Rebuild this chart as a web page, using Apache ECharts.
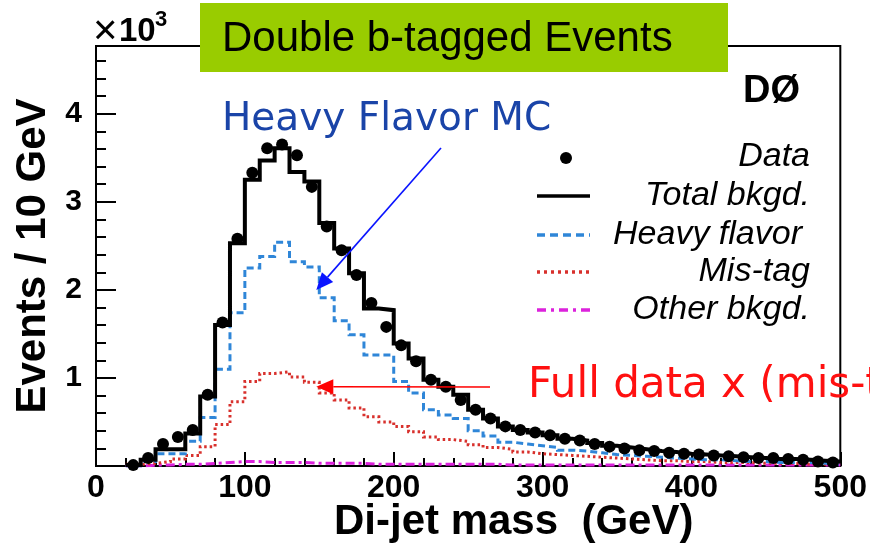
<!DOCTYPE html>
<html>
<head>
<meta charset="utf-8">
<script src="https://cdn.jsdelivr.net/npm/echarts@6/dist/echarts.min.js"></script>
<style>
  html, body { margin: 0; padding: 0; background: #fff; }
  #chart { width: 870px; height: 544px; }
</style>
</head>
<body>
<div id="chart"></div>
<script>
// Di-jet mass spectrum, double b-tagged events, 10 GeV bins (values in units of 10^3 events)
const binWidth = 10;
const binEdges = [20,30,40,50,60,70,80,90,100,110,120,130,140,150,160,170,180,190,200,210,
                  220,230,240,250,260,270,280,290,300,310,320,330,340,350,360,370,380,390,400,
                  410,420,430,440,450,460,470,480,490];

const dataEvents = [0.01,0.09,0.25,0.33,0.41,0.81,1.63,2.58,3.33,3.61,3.65,3.53,3.17,2.72,2.45,2.17,
                    1.85,1.58,1.37,1.19,0.98,0.90,0.75,0.64,0.54,0.45,0.41,0.38,0.35,0.31,0.29,0.25,
                    0.22,0.20,0.18,0.17,0.15,0.14,0.13,0.12,0.11,0.10,0.09,0.09,0.08,0.07,0.05,0.04];

const totalBkgd = [0.01,0.07,0.19,0.19,0.37,0.79,1.60,2.53,3.25,3.47,3.61,3.34,3.23,2.76,2.47,2.19,
                   1.79,1.77,1.39,1.22,0.98,0.90,0.81,0.64,0.54,0.45,0.41,0.38,0.35,0.31,0.29,0.26,
                   0.23,0.21,0.19,0.17,0.16,0.14,0.13,0.12,0.11,0.10,0.09,0.08,0.08,0.07,0.06,0.05];

const heavyFlavor = [0.00,0.05,0.14,0.14,0.28,0.55,1.10,1.74,2.25,2.38,2.54,2.32,2.26,1.91,1.65,1.49,
                     1.26,1.26,0.96,0.83,0.64,0.58,0.54,0.40,0.34,0.27,0.25,0.23,0.21,0.18,0.17,0.15,
                     0.13,0.12,0.11,0.10,0.09,0.08,0.07,0.07,0.06,0.05,0.05,0.04,0.04,0.04,0.03,0.02];

const misTag = [0.02,0.03,0.05,0.08,0.12,0.22,0.47,0.73,0.96,1.05,1.07,1.01,0.95,0.83,0.75,0.66,
                0.56,0.50,0.45,0.39,0.33,0.30,0.28,0.24,0.21,0.19,0.16,0.14,0.13,0.12,0.11,0.10,
                0.09,0.08,0.07,0.06,0.06,0.05,0.05,0.04,0.04,0.04,0.03,0.03,0.03,0.02,0.02,0.02];

const otherBkgd = [0.00,0.01,0.01,0.02,0.02,0.03,0.04,0.05,0.05,0.04,0.04,0.04,0.03,0.03,0.03,0.03,
                   0.02,0.02,0.02,0.02,0.02,0.02,0.02,0.02,0.02,0.01,0.01,0.01,0.01,0.01,0.01,0.01,
                   0.01,0.01,0.01,0.01,0.01,0.01,0.01,0.01,0.01,0.01,0.01,0.01,0.01,0.01,0.01,0.01];

const xTickLabels = [0, 100, 200, 300, 400, 500];
const yTickLabels = [1, 2, 3, 4];
const xMax = 500;
const yMax = 4.77;

const FONT = 'Liberation Sans, Arial, Helvetica, sans-serif';
const HAND = 'DejaVu Sans, Noto Sans, sans-serif';
const C_BLUE = '#2f86d8';
const C_RED = '#d8302c';
const C_MAG = '#dc22dc';

// Step outline of a histogram: one point per lower bin edge, closed at the last upper edge
function histPoints(vals) {
  const pts = binEdges.map((e, i) => [e, vals[i]]);
  const last = binEdges.length - 1;
  pts.push([binEdges[last] + binWidth, vals[last]]);
  return pts;
}
const centerPoints = binEdges.map((e, i) => [e + binWidth / 2, dataEvents[i]]);

const chart = echarts.init(document.getElementById('chart'), null, { renderer: 'canvas' });

const stepLine = (name, vals, color, width, type, z) => ({
  name, type: 'line', step: 'end', data: histPoints(vals),
  xAxisIndex: 0, yAxisIndex: 0,
  symbol: 'none', animation: false, z,
  lineStyle: { color, width, type, cap: 'butt', join: 'miter' }
});

chart.setOption({
  backgroundColor: '#fff',
  animation: false,
  grid: {
    left: 96, right: 28, top: 46, bottom: 78,
    show: true, borderColor: '#000', borderWidth: 2, backgroundColor: 'transparent'
  },
  xAxis: [{
    type: 'value', min: 0, max: xMax, interval: 100,
    axisLine: { show: true, lineStyle: { color: '#000', width: 2 } },
    axisTick: { show: true, inside: true, length: 14, lineStyle: { color: '#000', width: 2 } },
    minorTick: { show: true, splitNumber: 5, length: 8, lineStyle: { color: '#000', width: 2 } },
    splitLine: { show: false },
    axisLabel: {
      show: true, margin: 6, color: '#000', fontFamily: FONT, fontWeight: 'bold', fontSize: 32,
      formatter: v => (xTickLabels.indexOf(v) >= 0 ? String(v) : '')
    }
  }],
  yAxis: [{
    type: 'value', min: 0, max: yMax, interval: 1,
    axisLine: { show: true, lineStyle: { color: '#000', width: 2 } },
    axisTick: { show: true, inside: true, length: 20, lineStyle: { color: '#000', width: 2 } },
    splitLine: { show: false },
    axisLabel: {
      show: true, margin: 14, color: '#000', fontFamily: FONT, fontWeight: 'bold', fontSize: 30,
      formatter: v => (yTickLabels.indexOf(v) >= 0 ? String(v) : '')
    },
    name: 'Events / 10 GeV', nameLocation: 'middle', nameGap: 40, nameRotate: 90,
    nameTextStyle: { color: '#000', fontFamily: FONT, fontWeight: 'bold', fontSize: 42 }
  }, {
    // fine 0.2 subdivisions
    type: 'value', min: 0, max: yMax, interval: 0.2, position: 'left',
    axisLine: { show: false },
    axisTick: { show: true, inside: true, length: 10, lineStyle: { color: '#000', width: 2 } },
    splitLine: { show: false },
    axisLabel: { show: false }
  }],
  series: [
    stepLine('Other bkgd.', otherBkgd, C_MAG, 3, [9, 4, 3, 4], 2),
    stepLine('Mis-tag', misTag, C_RED, 3, [2.5, 3], 3),
    stepLine('Heavy flavor', heavyFlavor, C_BLUE, 3, [7, 4], 4),
    stepLine('Total bkgd.', totalBkgd, '#000', 4, 'solid', 5),
    {
      name: 'Data', type: 'scatter', data: centerPoints,
      xAxisIndex: 0, yAxisIndex: 0, z: 6,
      symbol: 'circle', symbolSize: 12, itemStyle: { color: '#000', opacity: 1 }, animation: false
    }
  ]
});

// Annotations and legend, placed in pixels; arrow tips follow the data scales
const px = (x, y) => chart.convertToPixel({ gridIndex: 0 }, [x, y]);

function arrow(from, to, color, len, wid) {
  const dx = to[0] - from[0], dy = to[1] - from[1];
  const d = Math.hypot(dx, dy), ux = dx / d, uy = dy / d;
  const bx = to[0] - ux * len, by = to[1] - uy * len;
  const nx = -uy * wid / 2, ny = ux * wid / 2;
  return [
    { type: 'line', shape: { x1: from[0], y1: from[1], x2: bx, y2: by },
      style: { stroke: color, lineWidth: 1.6 }, z: 20 },
    { type: 'polygon', shape: { points: [to, [bx + nx, by + ny], [bx - nx, by - ny]] },
      style: { fill: color }, z: 20 }
  ];
}

const blueTip = px(148, 2.0);
const redTip = px(148, 0.9);

const legendRows = [
  { label: 'Data', y: 157, kind: 'dot' },
  { label: 'Total bkgd.', y: 196, kind: 'line', color: '#000', dash: null, width: 3.5 },
  { label: 'Heavy flavor', y: 235, kind: 'line', color: C_BLUE, dash: [8, 5], width: 3.5, right: 802 },
  { label: 'Mis-tag', y: 272, kind: 'line', color: C_RED, dash: [3, 4], width: 3.5 },
  { label: 'Other bkgd.', y: 310, kind: 'line', color: C_MAG, dash: [9, 5, 3, 5], width: 3.5 }
];

const legendGraphics = [];
legendRows.forEach(r => {
  if (r.kind === 'dot') {
    legendGraphics.push({ type: 'circle', shape: { cx: 566, cy: r.y + 1, r: 6 }, style: { fill: '#000' }, z: 20 });
  } else {
    legendGraphics.push({ type: 'line', shape: { x1: 537, y1: r.y, x2: 590, y2: r.y },
      style: { stroke: r.color, lineWidth: r.width, lineDash: r.dash }, z: 20 });
  }
  legendGraphics.push({
    type: 'text', x: r.right || 810, y: r.y, z: 20,
    style: { text: r.label, fill: '#000', font: 'italic 34px ' + FONT, align: 'right', verticalAlign: 'middle' }
  });
});

chart.setOption({
  graphic: [
    // ×10^3 exponent
    { type: 'text', x: 93, y: 32, z: 20,
      style: { text: '×', fill: '#000', font: '42px ' + FONT, verticalAlign: 'middle' } },
    { type: 'text', x: 119, y: 32, z: 20,
      style: { text: '10', fill: '#000', font: 'bold 33px ' + FONT, verticalAlign: 'middle' } },
    { type: 'text', x: 155, y: 20, z: 20,
      style: { text: '3', fill: '#000', font: 'bold 22px ' + FONT, verticalAlign: 'middle' } },
    // title banner
    { type: 'rect', shape: { x: 200, y: 3, width: 528, height: 69 }, style: { fill: '#99cc00' }, z: 20 },
    { type: 'text', x: 222, y: 39, z: 21,
      style: { text: 'Double b-tagged Events', fill: '#000', font: '42px ' + FONT, verticalAlign: 'middle' } },
    // experiment tag
    { type: 'text', x: 800, y: 92, z: 20,
      style: { text: 'DØ', fill: '#000', font: 'bold 38px ' + FONT, align: 'right', verticalAlign: 'middle' } },
    // hand-written annotations
    { type: 'text', x: 222, y: 120, z: 20,
      style: { text: 'Heavy Flavor MC', fill: '#1a44a8', font: '39px ' + HAND, verticalAlign: 'middle' } },
    { type: 'text', x: 528, y: 386, z: 20,
      style: { text: 'Full data x (mis-tag rate)', fill: '#ff1010', font: '42px ' + HAND, verticalAlign: 'middle' } },
    ...arrow([441, 148], blueTip, '#0a14ff', 17, 15),
    ...arrow([490, 387], redTip, '#ff0000', 17, 15),
    ...legendGraphics,
    // x axis title
    { type: 'text', x: 334, y: 522, z: 20,
      style: { text: 'Di-jet mass  (GeV)', fill: '#000', font: 'bold 42px ' + FONT, verticalAlign: 'middle' } }
  ]
});
</script>
</body>
</html>
